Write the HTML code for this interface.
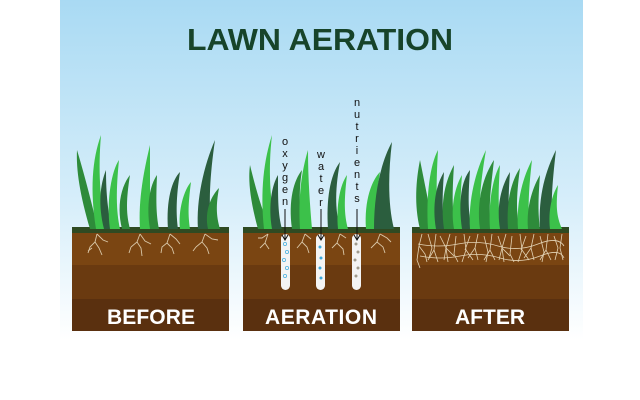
<!DOCTYPE html>
<html><head><style>
body{margin:0;width:640px;height:400px;background:#fff;overflow:hidden}
svg{display:block}
</style></head><body>
<svg width="640" height="400" viewBox="0 0 640 400" xmlns="http://www.w3.org/2000/svg">
<defs>
<linearGradient id="sky" x1="0" y1="0" x2="0" y2="1">
<stop offset="0" stop-color="#a9daf3"/><stop offset="0.6" stop-color="#d7eefa"/><stop offset="1" stop-color="#ffffff"/>
</linearGradient>
</defs>
<rect x="60" y="0" width="523" height="340" fill="url(#sky)"/>
<text x="320" y="50" text-anchor="middle" font-family="Liberation Sans, sans-serif" font-weight="bold" font-size="31" fill="#17442a" textLength="266" lengthAdjust="spacingAndGlyphs">LAWN AERATION</text>

<g>
<rect x="72" y="229" width="157" height="102" fill="#5a300f"/>
<rect x="72" y="229" width="157" height="36" fill="#7a4512"/>
<rect x="72" y="265" width="157" height="34" fill="#6a3a10"/>
<rect x="72" y="227" width="157" height="6" fill="#2f4a22"/>
<rect x="243" y="229" width="157" height="102" fill="#5a300f"/>
<rect x="243" y="229" width="157" height="36" fill="#7a4512"/>
<rect x="243" y="265" width="157" height="34" fill="#6a3a10"/>
<rect x="243" y="227" width="157" height="6" fill="#2f4a22"/>
<rect x="412" y="229" width="157" height="102" fill="#5a300f"/>
<rect x="412" y="229" width="157" height="36" fill="#7a4512"/>
<rect x="412" y="265" width="157" height="34" fill="#6a3a10"/>
<rect x="412" y="227" width="157" height="6" fill="#2f4a22"/>
</g>
<g font-family="Liberation Sans, sans-serif" font-weight="bold" font-size="21" fill="#fff" text-anchor="middle" lengthAdjust="spacingAndGlyphs">
<text x="151" y="324" textLength="88">BEFORE</text>
<text x="321" y="324" textLength="112">AERATION</text>
<text x="490" y="324" textLength="70">AFTER</text>
</g>

<g stroke="#d9c7a8" stroke-width="0.9" fill="none">
<path d="M97 234 l-2 8 l-5 5 l-2 6 M95 242 l4 6 l3 7 M97 234 l6 6 l5 2 M92 248 l-4 3"/>
<path d="M140 234 l-3 8 l-6 5 M137 242 l4 6 l1 8 M140 234 l5 7 l6 3 M131 247 l-2 6"/>
<path d="M170 234 l-3 9 l-5 4 l-1 6 M167 243 l5 5 l2 6 M170 234 l6 5 l4 5"/>
<path d="M205 234 l-3 8 l-6 5 M202 242 l5 6 l2 6 M205 234 l7 5 l6 1 M196 247 l-3 4"/>
<path d="M268 234 l-3 9 l-5 5 M265 243 l4 6 M268 234 l-6 4 l-4 0"/>
<path d="M305 234 l-3 8 l-5 6 M302 242 l5 5 l2 6 M305 234 l6 5"/>
<path d="M340 234 l-3 9 l-5 5 M337 243 l6 6 l1 6 M340 234 l6 4"/>
<path d="M380 234 l-3 8 l-6 6 M377 242 l6 5 l2 6 M380 234 l7 4 l4 4"/>
</g>
<g stroke="#e3d3b5" stroke-width="0.8" fill="none">
<path d="M422 234 l-3 12 l-2 14 l3 8 M419 246 l6 8 l2 8 M428 234 l4 14 l-3 10"/>
<path d="M436 234 l-2 16 l4 12 M434 250 l-6 10 M440 236 l6 12 l-2 12"/>
<path d="M450 234 l-4 14 l2 14 M446 248 l8 8 M456 236 l-2 18 l4 8"/>
<path d="M464 234 l2 16 l-4 12 M466 250 l7 10 M470 236 l-5 14"/>
<path d="M478 234 l-3 14 l3 12 M475 248 l-7 10 M484 236 l4 16 l-2 10"/>
<path d="M492 234 l-2 16 l5 10 M490 250 l-6 10 M498 236 l4 12 l-3 12"/>
<path d="M506 234 l-4 14 l2 14 M502 248 l8 8 M512 236 l-2 18 l4 8"/>
<path d="M520 234 l2 16 l-4 12 M522 250 l7 10 M526 236 l-5 14"/>
<path d="M534 234 l-3 14 l3 12 M531 248 l-7 10 M540 236 l4 16 l-2 10"/>
<path d="M548 234 l-2 16 l5 10 M546 250 l-6 10 M554 236 l4 12 l-3 12 M562 234 l-2 14 l3 12"/>
<path d="M418 244 q20 4 40 0 t40 2 t40 -2 t26 2 M420 256 q20 4 40 0 t40 2 t40 -2 t24 2"/>
</g>

<g fill="#f4f4f4">
<rect x="281" y="234" width="9" height="56" rx="4.5"/>
<rect x="316" y="234" width="9" height="56" rx="4.5"/>
<rect x="352" y="234" width="9" height="56" rx="4.5"/>
</g>
<g fill="none" stroke="#4fb3e0" stroke-width="0.8">
<circle cx="285" cy="244" r="1.6"/><circle cx="287" cy="252" r="1.6"/><circle cx="284" cy="260" r="1.6"/><circle cx="287" cy="268" r="1.6"/><circle cx="285" cy="276" r="1.6"/>
</g>
<g fill="#3aa8dc"><circle cx="320" cy="247" r="1.5"/><circle cx="321" cy="258" r="1.5"/><circle cx="320" cy="268" r="1.5"/><circle cx="321" cy="278" r="1.5"/></g>
<g fill="#a09a8c"><circle cx="356" cy="244" r="1.5"/><circle cx="358" cy="252" r="1.5"/><circle cx="355" cy="260" r="1.5"/><circle cx="358" cy="268" r="1.5"/><circle cx="356" cy="276" r="1.5"/></g>

<g>
<path d="M90 229 C80 195 76 170 77 150 C86 180 92 205 98 229Z" fill="#2e8b3a"/>
<path d="M96 229 C90 190 92 160 101 135 C98 170 100 200 106 229Z" fill="#3cc14a"/>
<path d="M104 229 C98 205 100 185 106 170 C106 195 108 212 112 229Z" fill="#2b5e3e"/>
<path d="M110 229 C106 200 112 170 119 160 C116 190 116 210 120 229Z" fill="#3cc14a"/>
<path d="M122 229 C116 205 122 185 130 175 C126 200 126 214 130 229Z" fill="#2e8b3a"/>
<path d="M140 229 C138 200 144 170 150 145 C150 180 150 205 150 229Z" fill="#3cc14a"/>
<path d="M150 229 C146 205 150 185 157 175 C156 200 156 214 159 229Z" fill="#2e8b3a"/>
<path d="M168 229 C166 200 172 180 180 172 C176 198 176 214 178 229Z" fill="#2b5e3e"/>
<path d="M180 229 C178 210 184 190 191 182 C188 205 188 215 190 229Z" fill="#3cc14a"/>
<path d="M198 229 C196 200 204 165 215 140 C210 175 208 205 212 229Z" fill="#2b5e3e"/>
<path d="M208 229 C204 210 212 195 219 188 C216 205 216 215 220 229Z" fill="#2e8b3a"/>

<path d="M258 229 C250 200 248 180 250 165 C256 190 262 210 270 229Z" fill="#2e8b3a"/>
<path d="M264 229 C260 190 264 160 272 135 C268 170 270 200 276 229Z" fill="#3cc14a"/>
<path d="M272 229 C268 205 272 185 278 175 C278 200 278 214 282 229Z" fill="#2b5e3e"/>
<path d="M292 229 C288 200 294 180 302 170 C298 195 300 212 304 229Z" fill="#2e8b3a"/>
<path d="M300 229 C298 195 302 170 308 150 C308 180 310 205 312 229Z" fill="#3cc14a"/>
<path d="M328 229 C326 200 330 175 340 162 C334 195 336 212 340 229Z" fill="#2b5e3e"/>
<path d="M338 229 C336 205 340 185 347 175 C344 200 344 214 348 229Z" fill="#3cc14a"/>
<path d="M366 229 C364 200 372 180 380 172 C376 198 374 214 378 229Z" fill="#3cc14a"/>
<path d="M374 229 C374 190 382 160 392 142 C388 175 388 205 394 229Z" fill="#2b5e3e"/>

<path d="M420 229 C414 205 416 180 420 160 C426 190 430 210 434 229Z" fill="#2e8b3a"/>
<path d="M428 229 C426 195 430 165 438 150 C436 185 436 205 440 229Z" fill="#3cc14a"/>
<path d="M436 229 C432 205 436 185 444 172 C442 200 442 214 446 229Z" fill="#2b5e3e"/>
<path d="M444 229 C440 200 446 180 454 165 C452 195 452 212 456 229Z" fill="#2e8b3a"/>
<path d="M454 229 C450 205 456 185 462 175 C460 200 460 214 464 229Z" fill="#3cc14a"/>
<path d="M462 229 C458 200 462 180 470 170 C468 198 468 212 472 229Z" fill="#2b5e3e"/>
<path d="M470 229 C468 200 476 170 486 150 C480 185 478 210 482 229Z" fill="#3cc14a"/>
<path d="M480 229 C476 200 484 175 494 160 C490 195 488 212 492 229Z" fill="#2e8b3a"/>
<path d="M490 229 C488 200 494 175 500 165 C498 195 498 212 502 229Z" fill="#3cc14a"/>
<path d="M500 229 C496 205 502 185 510 172 C508 200 508 214 512 229Z" fill="#2b5e3e"/>
<path d="M508 229 C506 200 512 180 520 168 C516 198 516 214 520 229Z" fill="#2e8b3a"/>
<path d="M518 229 C516 200 524 175 532 160 C528 195 528 212 530 229Z" fill="#3cc14a"/>
<path d="M528 229 C526 205 534 185 540 175 C538 200 538 214 540 229Z" fill="#2e8b3a"/>
<path d="M540 229 C538 195 546 170 556 150 C552 185 550 210 554 229Z" fill="#2b5e3e"/>
<path d="M550 229 C548 210 552 195 558 185 C556 205 556 215 562 229Z" fill="#3cc14a"/>
</g>

<g font-family="Liberation Sans, sans-serif" font-size="11" fill="#111" text-anchor="middle">
<text x="285" y="145">o</text><text x="285" y="157">x</text><text x="285" y="169">y</text><text x="285" y="181">g</text><text x="285" y="193">e</text><text x="285" y="205">n</text>
<text x="321" y="158">w</text><text x="321" y="170">a</text><text x="321" y="182">t</text><text x="321" y="194">e</text><text x="321" y="206">r</text>
<text x="357" y="106">n</text><text x="357" y="118">u</text><text x="357" y="130">t</text><text x="357" y="142">r</text><text x="357" y="154">i</text><text x="357" y="166">e</text><text x="357" y="178">n</text><text x="357" y="190">t</text><text x="357" y="202">s</text>
</g>
<g stroke="#111" stroke-width="1" fill="none">
<path d="M285 209 V240 M282 235 L285 240 L288 235"/>
<path d="M321 209 V240 M318 235 L321 240 L324 235"/>
<path d="M357 209 V240 M354 235 L357 240 L360 235"/>
</g>
</svg>
</body></html>
